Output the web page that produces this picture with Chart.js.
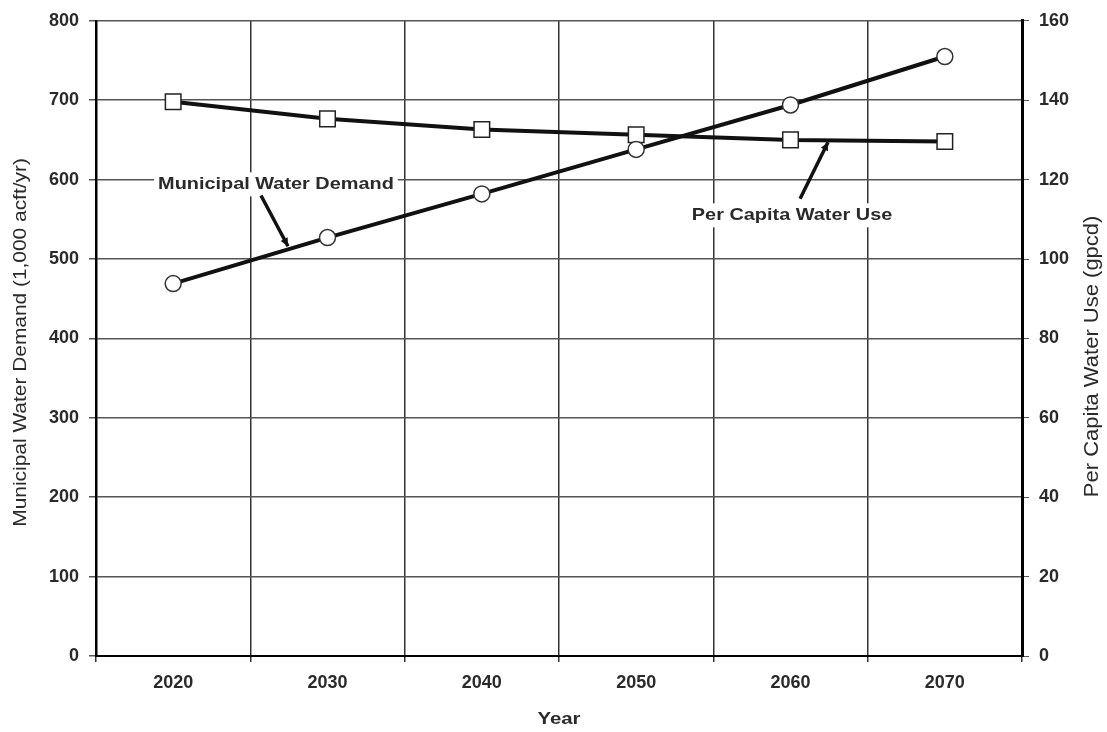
<!DOCTYPE html>
<html>
<head>
<meta charset="utf-8">
<script src="https://cdn.jsdelivr.net/npm/chart.js@4.4.0/dist/chart.umd.min.js"></script>
<style>
  html, body { margin: 0; padding: 0; background: #fff; }
  #wrap { width: 1107px; height: 732px; }
</style>
</head>
<body>
<div id="wrap"><canvas id="chart"></canvas></div>
<script>
// values
const years = ['2020', '2030', '2040', '2050', '2060', '2070'];
const municipalDemand = [469, 527, 582, 638, 694, 755];      // 1,000 acft/yr (left axis)
const perCapitaUse = [139.6, 135.3, 132.6, 131.3, 130.0, 129.6]; // gpcd (right axis)

const leftTicks = [0, 100, 200, 300, 400, 500, 600, 700, 800];
const rightTicks = [0, 20, 40, 60, 80, 100, 120, 140, 160];

// callouts: label text, where the label sits and where its arrow goes (category index, left-axis value)
const callouts = [
  { text: 'Municipal Water Demand', at: [0.666, 594], from: [0.569, 580], to: [0.744, 516] },
  { text: 'Per Capita Water Use', at: [4.01, 555], from: [4.062, 576], to: [4.243, 647] }
];

const FONT = '"Liberation Sans", Arial, sans-serif';

// text a bit wider than tall, like the scanned original
function wideText(ctx, text, x, y, font, sx, rot) {
  ctx.save();
  ctx.translate(x, y);
  if (rot) ctx.rotate(rot);
  ctx.scale(sx, 1);
  ctx.font = font;
  ctx.textAlign = 'center';
  ctx.textBaseline = 'middle';
  ctx.fillText(text, 0, 0);
  ctx.restore();
}

const calloutPlugin = {
  id: 'callouts',
  afterDatasetsDraw(chart) {
    const ctx = chart.ctx;
    const xs = chart.scales.x, ys = chart.scales.y;
    const px = i => xs.getPixelForValue(0) + i * (xs.getPixelForValue(1) - xs.getPixelForValue(0));
    ctx.save();
    callouts.forEach(c => {
      const font = 'bold 17px ' + FONT;
      const sx = 1.17;
      const x = px(c.at[0]), y = ys.getPixelForValue(c.at[1]);
      ctx.font = font;
      const w = ctx.measureText(c.text).width * sx;
      ctx.fillStyle = '#fff';
      ctx.fillRect(x - w / 2 - 4, y - 12, w + 8, 24);
      ctx.fillStyle = '#2a2a2a';
      wideText(ctx, c.text, x, y, font, sx, 0);

      const x1 = px(c.from[0]), y1 = ys.getPixelForValue(c.from[1]);
      const x2 = px(c.to[0]), y2 = ys.getPixelForValue(c.to[1]);
      ctx.strokeStyle = '#111';
      ctx.lineWidth = 3.5;
      ctx.beginPath();
      ctx.moveTo(x1, y1);
      ctx.lineTo(x2, y2);
      ctx.stroke();
      const a = Math.atan2(y2 - y1, x2 - x1);
      ctx.fillStyle = '#111';
      ctx.beginPath();
      ctx.moveTo(x2, y2);
      ctx.lineTo(x2 - 9 * Math.cos(a - 0.45), y2 - 9 * Math.sin(a - 0.45));
      ctx.lineTo(x2 - 9 * Math.cos(a + 0.45), y2 - 9 * Math.sin(a + 0.45));
      ctx.closePath();
      ctx.fill();
    });

    // axis titles
    const area = chart.chartArea;
    ctx.fillStyle = '#2a2a2a';
    wideText(ctx, 'Municipal Water Demand (1,000 acft/yr)', 21, (area.top + area.bottom) / 2 + 4,
      '19px ' + FONT, 1.1, -Math.PI / 2);
    wideText(ctx, 'Per Capita Water Use (gpcd)', 1092, (area.top + area.bottom) / 2 + 18,
      '20px ' + FONT, 1.1, -Math.PI / 2);
    wideText(ctx, 'Year', (area.left + area.right) / 2, 719, 'bold 17px ' + FONT, 1.2, 0);
    ctx.restore();
  }
};

const tickFont = { family: FONT, size: 18, weight: 'bold' };

new Chart(document.getElementById('chart'), {
  type: 'line',
  data: {
    labels: years,
    datasets: [
      {
        label: 'Municipal Water Demand',
        data: municipalDemand,
        yAxisID: 'y',
        borderColor: '#111',
        borderWidth: 4,
        pointStyle: 'circle',
        pointRadius: 8,
        pointBackgroundColor: '#fff',
        pointBorderColor: '#333',
        pointBorderWidth: 1.5,
        tension: 0
      },
      {
        label: 'Per Capita Water Use',
        data: perCapitaUse,
        yAxisID: 'y1',
        borderColor: '#111',
        borderWidth: 4,
        pointStyle: 'rect',
        pointRadius: 11,
        pointBackgroundColor: '#fff',
        pointBorderColor: '#222',
        pointBorderWidth: 1.5,
        tension: 0
      }
    ]
  },
  options: {
    responsive: true,
    maintainAspectRatio: false,
    animation: false,
    layout: { padding: { top: 20, left: 0, right: 0, bottom: 0 } },
    plugins: { legend: { display: false }, tooltip: { enabled: false } },
    scales: {
      x: {
        offset: true,
        afterFit(s) { s.height = 76; },
        grid: { offset: true, color: '#333', lineWidth: 1.5, tickLength: 6 },
        border: { color: '#000', width: 2 },
        ticks: { color: '#2a2a2a', padding: 10, font: tickFont }
      },
      y: {
        position: 'left',
        min: 0, max: 800,
        afterFit(s) { s.width = 96; },
        afterBuildTicks(s) { s.ticks = leftTicks.map(v => ({ value: v })); },
        grid: { color: '#555', lineWidth: 1.5, tickLength: 7 },
        border: { color: '#000', width: 2.5 },
        ticks: { color: '#2a2a2a', padding: 10, font: tickFont }
      },
      y1: {
        position: 'right',
        min: 0, max: 160,
        afterFit(s) { s.width = 85; },
        afterBuildTicks(s) { s.ticks = rightTicks.map(v => ({ value: v })); },
        grid: { drawOnChartArea: false, color: '#555', tickLength: 7 },
        border: { color: '#000', width: 3 },
        ticks: { color: '#2a2a2a', padding: 10, font: tickFont }
      }
    }
  },
  plugins: [calloutPlugin]
});
</script>
</body>
</html>
